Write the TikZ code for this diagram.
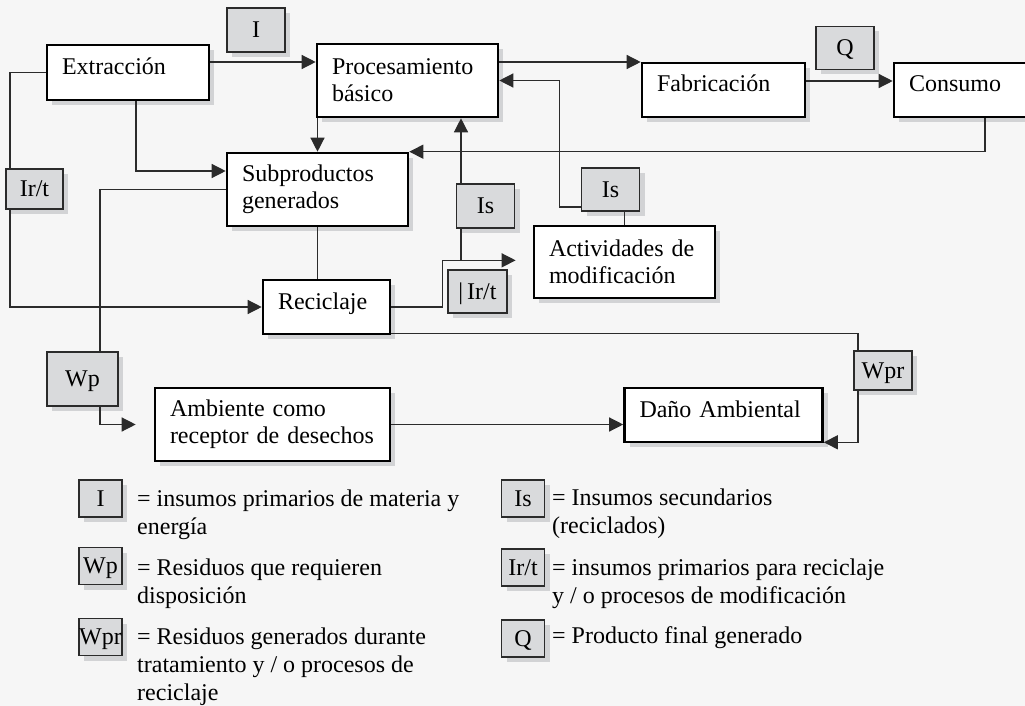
\documentclass[tikz,border=0pt]{standalone}
\usepackage{fontspec}
\setmainfont{Liberation Serif}
\usetikzlibrary{arrows.meta,shadows}
\definecolor{fondo}{HTML}{F6F6F6}
\definecolor{grisetq}{HTML}{D9DADC}
\definecolor{sombra}{HTML}{D2D3D5}
\definecolor{trazo}{HTML}{2B2B2B}
\begin{document}
\begin{tikzpicture}[x=1pt, y=-1pt, font=\fontsize{24}{27}\selectfont,
  sombreado/.style={drop shadow={shadow xshift=5pt, shadow yshift=-5pt, opacity=1, fill=sombra}},
  caja/.style={draw=black, line width=2.6pt, fill=white, sombreado, inner xsep=15pt, inner ysep=0pt, align=left},
  caja1/.style={caja, text height=16pt, text depth=12pt},
  etiq/.style={draw=trazo, line width=1.3pt, fill=grisetq, sombreado, inner sep=0pt, align=center, text height=15pt, text depth=0pt},
  ley/.style={etiq, minimum width=43pt, minimum height=37pt},
  texto/.style={anchor=base west, align=left, inner sep=0pt, font=\fontsize{24}{28}\selectfont},
  conector/.style={draw=trazo, line width=1.3pt},
  flecha/.style={conector, -{Triangle[length=14pt,width=14pt]}}]
  \useasboundingbox (0,0) rectangle (1025,706);
  \fill[fondo] (0,0) rectangle (1025,706);

  \node[caja1, text width=132pt, minimum height=55pt] (extr) at (128,72.5) {Extracción};
  \node[caja, text width=151pt, minimum height=73pt] (proc) at (407.5,80.5) {Procesamiento\\básico};
  \node[caja1, text width=133pt, minimum height=54pt] (fab) at (723.5,90) {Fabricación};
  \node[caja1, text width=142pt, minimum height=54pt] (cons) at (980,90) {Consumo};
  \node[caja, text width=151pt, minimum height=73pt] (subp) at (317.5,189.5) {Subproductos\\generados};
  \node[caja, text width=151pt, minimum height=72pt] (activ) at (624.5,262) {Actividades de\\modificación};
  \node[caja1, text width=97pt, minimum height=54pt] (recic) at (326.5,307) {Reciclaje};
  \node[caja, text width=205pt, minimum height=73pt] (amb) at (272.5,424.5) {Ambiente como\\receptor de desechos};
  \node[caja1, text width=168pt, minimum height=54pt] (dano) at (723.5,415) {Daño Ambiental};

  \node[etiq, minimum width=58pt, minimum height=44pt] (lI) at (256,30) {I};
  \node[etiq, minimum width=58pt, minimum height=43pt] (lQ) at (845,48) {Q};
  \node[etiq, minimum width=57pt, minimum height=40pt] (lIrt1) at (34.5,189) {Ir/t};
  \node[etiq, minimum width=58pt, minimum height=44pt] (lIs1) at (485.5,206) {Is};
  \node[etiq, minimum width=58pt, minimum height=43pt] (lIs2) at (610.5,189.5) {Is};
  \node[etiq, minimum width=59pt, minimum height=43pt] (lIrt2) at (477.5,291.5) {\textbar\,Ir/t};
  \node[etiq, minimum width=71pt, minimum height=54pt] (lWp) at (82.5,379) {Wp};
  \node[etiq, minimum width=58pt, minimum height=39pt] (lWpr) at (883,370.5) {Wpr};

  \coordinate (s1) at ([yshift=10.5pt]extr.east);
  \coordinate (s2) at ([yshift=18.5pt]proc.east);
  \coordinate (s3) at ([yshift=9pt]fab.east);
  \coordinate (c1) at ([shift={(-5pt,9pt)}]lIrt2.north west);
  \coordinate (c2) at ([shift={(8pt,9pt)}]lIrt2.north east);
  \coordinate (c3) at ([xshift=-21.5pt,yshift=-17.5pt]lIs2.west);

  \draw[flecha] (s1) -- (s1 -| proc.west);
  \draw[flecha] (s2) -- (s2 -| fab.west);
  \draw[flecha] (s3) -- (s3 -| cons.west);
  \draw[conector] (extr.west) -| ([xshift=-24.5pt]lIrt1.north);
  \draw[flecha] ([xshift=-24.5pt]lIrt1.south) |- (recic.west);
  \draw[flecha] ([xshift=8pt]extr.south) |- ([yshift=18.5pt]subp.west);
  \draw[flecha] (subp.north |- proc.south) -- (subp.north);
  \draw[flecha] ([xshift=5pt]cons.south) |- (subp.north east);
  \draw[conector] (subp.west) -| ([xshift=17.5pt]lWp.north);
  \draw[flecha] ([xshift=17.5pt]lWp.south) |- ([xshift=-18pt]amb.west);
  \draw[flecha] (amb.east) -- (amb.east -| dano.west);
  \draw[conector] (subp.south) -- (subp.south |- recic.north);
  \draw[conector] ([yshift=2pt]recic.south east) -| ([xshift=-25pt]lWpr.north);
  \draw[flecha] ([xshift=-25pt]lWpr.south) |- ([yshift=1pt]dano.south east);
  \draw[flecha] (recic.east) -| (c1) -- (c2);
  \draw[conector] ([xshift=-24.5pt]lIs1.south) -- ([xshift=-24.5pt]lIs1.south |- c1);
  \draw[flecha] ([xshift=-24.5pt]lIs1.north) -- ([xshift=-24.5pt]lIs1.north |- proc.south);
  \draw[flecha] ([yshift=-17.5pt]lIs2.west) -- (c3) |- (proc.east);
  \draw[conector] (activ.north |- lIs2.south) -- (activ.north);

  \node[ley] (kI) at (100.5,498.5) {I};
  \node[ley] (kWp) at (100.5,566) {Wp};
  \node[ley] (kWpr) at (100.5,637) {Wpr};
  \node[ley] (kIs) at (523,498.5) {Is};
  \node[ley] (kIrt) at (523,567.5) {Ir/t};
  \node[ley] (kQ) at (523,638.5) {Q};
  \node[texto] (tI) at (137,534) {= insumos primarios de materia y\\energía};
  \node[texto] (tWp) at (137,603) {= Residuos que requieren\\disposición};
  \node[texto] (tWpr) at (137,700) {= Residuos generados durante\\tratamiento y / o procesos de\\reciclaje};
  \node[texto] (tIs) at (552,533) {= Insumos secundarios\\(reciclados)};
  \node[texto] (tIrt) at (552,603) {= insumos primarios para reciclaje\\y / o procesos de modificación};
  \node[texto] (tQ) at (552,643) {= Producto final generado};
\end{tikzpicture}
\end{document}
